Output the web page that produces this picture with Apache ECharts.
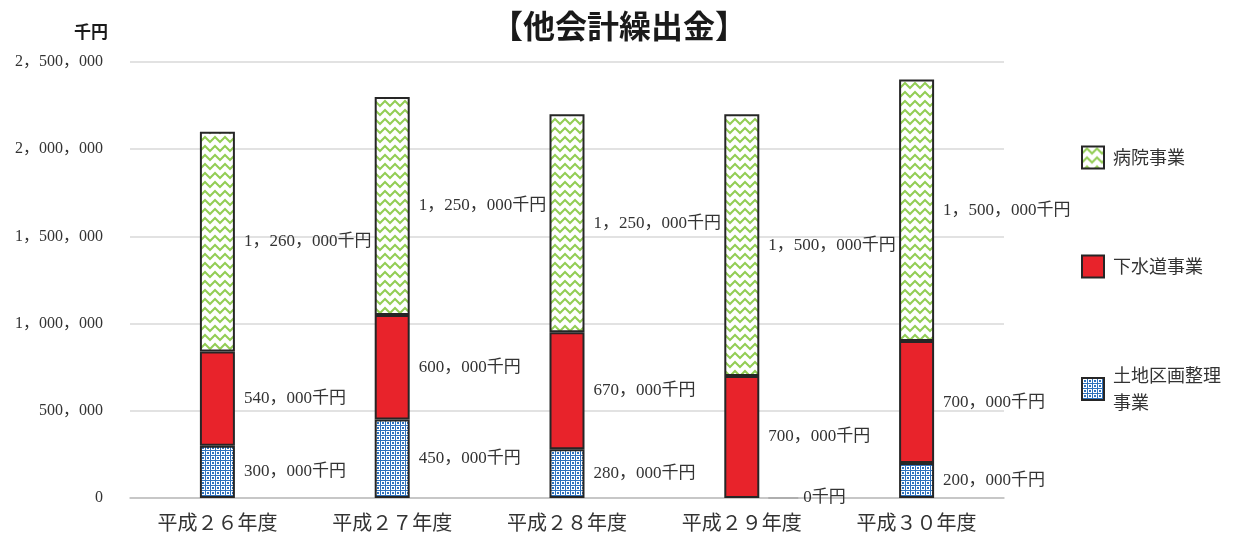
<!DOCTYPE html>
<html>
<head>
<meta charset="utf-8">
<script src="https://cdn.jsdelivr.net/npm/echarts@6/dist/echarts.min.js"></script>
<style>
  html, body { margin: 0; padding: 0; background: #ffffff; }
  #chart { width: 1238px; height: 533px; }
</style>
</head>
<body>
<div id="chart"></div>
<script>
// Fiscal years (Heisei 26–30)
const categories = ['平成２６年度', '平成２７年度', '平成２８年度', '平成２９年度', '平成３０年度'];
// Transfers to other accounts, in thousand yen
const landReadjustment = [300000, 450000, 280000, 0, 200000];   // 土地区画整理事業
const sewerage = [540000, 600000, 670000, 700000, 700000];       // 下水道事業
const hospital = [1260000, 1250000, 1250000, 1500000, 1500000];  // 病院事業
const yTicks = [0, 500000, 1000000, 1500000, 2000000, 2500000];

const serifFont = '"Liberation Serif", "Noto Sans CJK JP", serif';
const cjkFont = '"Noto Sans CJK JP", sans-serif';

// Thousands separator written as a full-width comma
function fmt(v) {
  return String(v).replace(/\B(?=(\d{3})+(?!\d))/g, '，');
}

// Zigzag fill: light green chevrons on white
function zigzagTile() {
  const c = document.createElement('canvas');
  c.width = 10; c.height = 9;
  const ctx = c.getContext('2d');
  ctx.fillStyle = '#ffffff';
  ctx.fillRect(0, 0, c.width, c.height);
  ctx.strokeStyle = '#93cd55';
  ctx.lineWidth = 2;
  ctx.beginPath();
  ctx.moveTo(-1, 8); ctx.lineTo(5, 2); ctx.lineTo(11, 8);
  ctx.stroke();
  return c;
}
// Lattice fill: blue grid with a dot in every cell
function latticeTile() {
  const rows = ['#####', '#....', '#.##.', '#.##.', '#....'];
  const c = document.createElement('canvas');
  c.width = 5; c.height = 5;
  const ctx = c.getContext('2d');
  ctx.fillStyle = '#ffffff';
  ctx.fillRect(0, 0, 5, 5);
  ctx.fillStyle = '#2f72bd';
  rows.forEach((r, y) => {
    for (let x = 0; x < r.length; x++) if (r[x] === '#') ctx.fillRect(x, y, 1, 1);
  });
  return c;
}

const chart = echarts.init(document.getElementById('chart'), null, { renderer: 'canvas' });

// Value labels sit to the right of each segment; a zero value gets a short leader line
const labelStyle = {
  show: true,
  position: 'right',
  distance: 9,
  fontFamily: serifFont,
  fontSize: 17,
  color: '#333333',
  formatter: p => (p.value === 0 ? '{lead|}{gap|}' : '') + fmt(p.value) + '千円',
  rich: {
    lead: { width: 30, height: 1.5, backgroundColor: '#a6a6a6' },
    gap: { width: 5 }
  }
};

function buildSeries(name, values, fill) {
  return {
    name: name,
    type: 'bar',
    stack: 'total',
    barWidth: 35,
    data: values.map(v => (v === 0 ? { value: v, itemStyle: { borderWidth: 0 } } : { value: v })),
    itemStyle: {
      color: fill,
      borderColor: '#262626',
      borderWidth: 2
    },
    label: labelStyle
  };
}

chart.setOption({
  animation: false,
  backgroundColor: '#ffffff',
  title: {
    text: '【他会計繰出金】',
    left: 'center',
    top: 5,
    textStyle: { fontFamily: cjkFont, fontSize: 32, fontWeight: 'bold', color: '#1a1a1a' }
  },
  grid: { left: 130, right: 234, top: 62, bottom: 35, containLabel: false },
  legend: {
    orient: 'vertical',
    left: 1076,
    top: 139,
    icon: 'rect',
    itemWidth: 22,
    itemHeight: 22,
    itemGap: 82,
    data: ['病院事業', '下水道事業', '土地区画整理事業'],
    formatter: name => (name.length > 6 ? name.slice(0, 6) + '\n' + name.slice(6) : name),
    textStyle: { fontFamily: cjkFont, fontSize: 18, color: '#333333', lineHeight: 27, padding: [0, 0, 0, 4] }
  },
  xAxis: {
    type: 'category',
    data: categories,
    axisLine: { lineStyle: { color: '#bfbfbf', width: 1.5 } },
    axisTick: { show: false },
    axisLabel: { fontFamily: cjkFont, fontSize: 20, color: '#333333', margin: 14 }
  },
  yAxis: {
    type: 'value',
    min: yTicks[0],
    max: yTicks[yTicks.length - 1],
    interval: yTicks[1] - yTicks[0],
    name: '千円',
    nameLocation: 'end',
    nameGap: 22,
    nameTextStyle: { fontFamily: cjkFont, fontSize: 17, fontWeight: 'bold', color: '#1a1a1a', align: 'right', padding: [0, 22, 0, 0] },
    axisLine: { show: false },
    axisTick: { show: false },
    splitLine: { lineStyle: { color: '#d9d9d9', width: 1.5 } },
    axisLabel: { fontFamily: serifFont, fontSize: 16, color: '#333333', margin: 27, formatter: v => fmt(v) }
  },
  series: [
    buildSeries('土地区画整理事業', landReadjustment, { image: latticeTile(), repeat: 'repeat' }),
    buildSeries('下水道事業', sewerage, '#e8232b'),
    buildSeries('病院事業', hospital, { image: zigzagTile(), repeat: 'repeat' })
  ]
});
</script>
</body>
</html>
